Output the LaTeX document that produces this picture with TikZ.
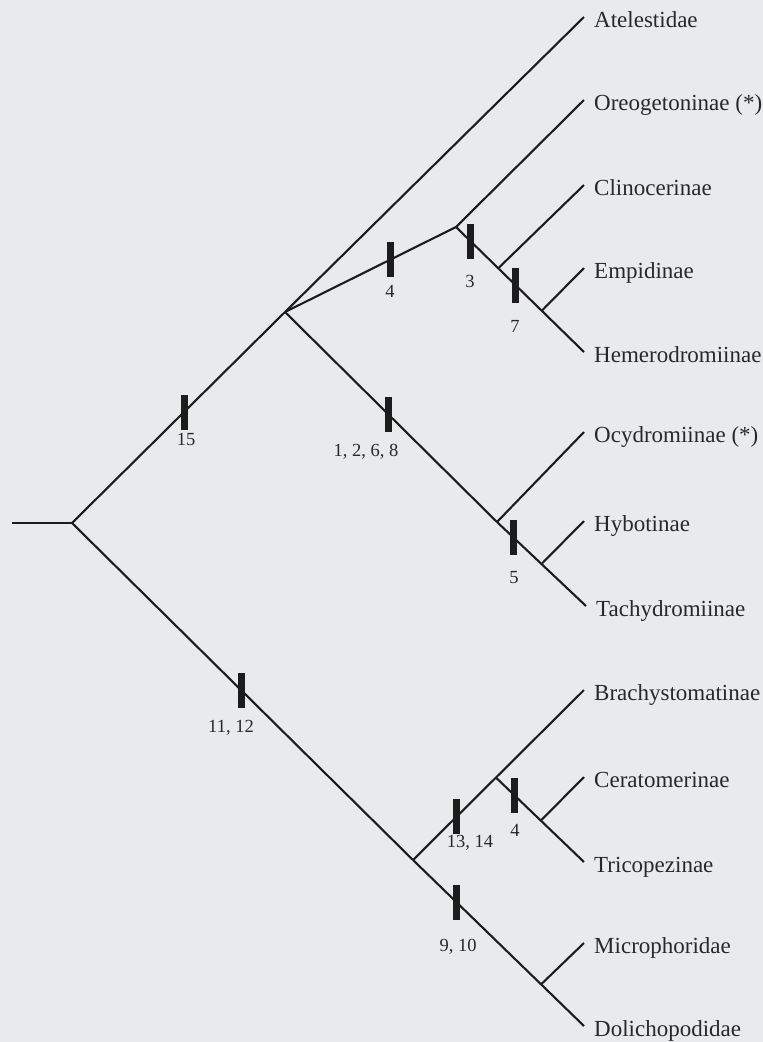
\documentclass[tikz,border=0pt]{standalone}
\usepackage{fontspec}
\setmainfont{Liberation Serif}
\usetikzlibrary{calc}
\definecolor{bgc}{RGB}{233,234,236}
\definecolor{linec}{RGB}{28,28,28}
\definecolor{textc}{RGB}{40,40,40}
\tikzset{
  branch/.style={draw=linec, line width=2.1pt},
  barmark/.style={rectangle, fill=linec, inner sep=0pt, minimum width=7pt, minimum height=35pt},
  barlabel/.style={font=\fontsize{18.5}{18.5}\selectfont, text=textc, inner sep=0pt},
  leaf/.style={font=\fontsize{23}{23}\selectfont, text=textc, anchor=base west, inner sep=0pt, xshift=10pt, yshift=-10pt}
}
\begin{document}
\begin{tikzpicture}[x=1pt,y=-1pt]
\useasboundingbox (0,0) rectangle (763,1042);
\fill[bgc] (0,0) rectangle (763,1042);
% internal coordinates
\coordinate (L) at (12,523);
\coordinate (R) at (72,523);
\coordinate (A) at (285,312);
\coordinate (B) at (456,227);
\coordinate (C) at (497,522);
\coordinate (D) at (413,860);
% tips
\coordinate (T1) at (584,17);
\coordinate (T2) at (584,100);
\coordinate (T3) at (584,185);
\coordinate (T4) at (584,268);
\coordinate (T5) at (584,352);
\coordinate (T6) at (584,432);
\coordinate (T7) at (584,521);
\coordinate (T8) at (586,606);
\coordinate (T9) at (584,690);
\coordinate (T10) at (584,777);
\coordinate (T11) at (584,862);
\coordinate (T12) at (584,943);
\coordinate (T13) at (584,1026);
% derived nodes
\coordinate (Nclino) at ($(B)!0.33!(T5)$);
\coordinate (Nempid) at ($(B)!0.67!(T5)$);
\coordinate (Nhybot) at ($(C)!0.5!(T8)$);
\coordinate (E) at ($(D)!0.485!(T9)$);
\coordinate (Ncerato) at ($(E)!0.51!(T11)$);
\coordinate (Nmicro) at ($(D)!0.749!(T13)$);
% branches
\draw[branch] (L) -- (R);
\draw[branch] (R) -- (A);
\draw[branch] (R) -- (D);
\draw[branch] (A) -- (T1);
\draw[branch] (A) -- (B);
\draw[branch] (B) -- (T2);
\draw[branch] (B) -- (T5);
\draw[branch] (Nclino) -- (T3);
\draw[branch] (Nempid) -- (T4);
\draw[branch] (A) -- (C);
\draw[branch] (C) -- (T6);
\draw[branch] (C) -- (T8);
\draw[branch] (Nhybot) -- (T7);
\draw[branch] (D) -- (T9);
\draw[branch] (E) -- (T11);
\draw[branch] (Ncerato) -- (T10);
\draw[branch] (D) -- (T13);
\draw[branch] (Nmicro) -- (T12);
% character bars
\node[barmark] (b15) at ($(R)!0.526!(A)$) {};
\node[barmark] (b4a) at ($(A)!0.618!(B)$) {};
\node[barmark] (b3) at ($(B)!0.116!(T5)$) {};
\node[barmark] (b7) at ($(B)!0.465!(T5)$) {};
\node[barmark] (b1268) at ($(A)!0.49!(C)$) {};
\node[barmark] (b5) at ($(C)!0.19!(T8)$) {};
\node[barmark] (b1112) at ($(R)!0.496!(D)$) {};
\node[barmark] (b1314) at ($(D)!0.257!(T9)$) {};
\node[barmark] (b4b) at ($(E)!0.216!(T11)$) {};
\node[barmark] (b910) at ($(D)!0.257!(T13)$) {};
% bar labels
\node[barlabel] (l15) at (186,439) {15};
\node[barlabel] (l4a) at (390,291) {4};
\node[barlabel] (l3) at (470,281) {3};
\node[barlabel] (l7) at (515,326) {7};
\node[barlabel] (l1268) at (366,452) {1, 2, 6, 8};
\node[barlabel] (l5) at (514,578) {5};
\node[barlabel] (l1112) at (231,728) {11, 12};
\node[barlabel] (l1314) at (470,843) {13, 14};
\node[barlabel] (l4b) at (515,830) {4};
\node[barlabel] (l910) at (458,947) {9, 10};
% leaf labels
\node[leaf] (n1) at (T1) {Atelestidae};
\node[leaf] (n2) at (T2) {Oreogetoninae (*)};
\node[leaf] (n3) at (T3) {Clinocerinae};
\node[leaf] (n4) at (T4) {Empidinae};
\node[leaf] (n5) at (T5) {Hemerodromiinae};
\node[leaf] (n6) at (T6) {Ocydromiinae (*)};
\node[leaf] (n7) at (T7) {Hybotinae};
\node[leaf] (n8) at (T8) {Tachydromiinae};
\node[leaf] (n9) at (T9) {Brachystomatinae};
\node[leaf] (n10) at (T10) {Ceratomerinae};
\node[leaf] (n11) at (T11) {Tricopezinae};
\node[leaf] (n12) at (T12) {Microphoridae};
\node[leaf] (n13) at (T13) {Dolichopodidae};
\end{tikzpicture}
\end{document}
